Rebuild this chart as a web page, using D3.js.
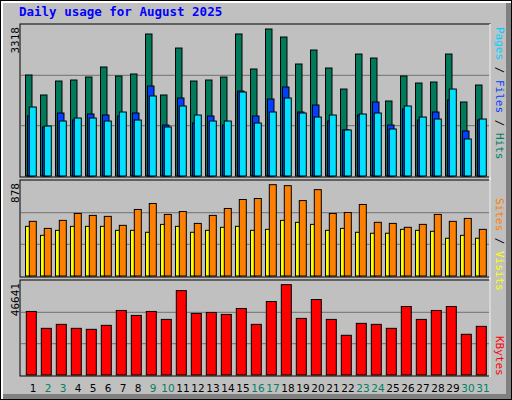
<!DOCTYPE html>
<html><head><meta charset="utf-8">
<script src="https://cdn.jsdelivr.net/npm/d3@7"></script>
<style>body{margin:0;background:#fff}</style>
</head><body>
<div id="chart"></div>
<script>
var days = d3.range(1, 32);
var weekend = [2,3,9,10,16,17,23,24,30,31];
var hits = [2219,1780,2087,2109,2175,2395,2197,2241,3120,1780,2812,2087,2109,2175,3120,2351,3230,3054,2461,2768,2373,1911,2680,2592,1648,2197,2043,2065,2680,1626,1999];
var files = [1318,1077,1384,1230,1362,1340,1318,1384,1977,1120,1714,1164,1318,1120,1867,1318,1692,1955,1406,1560,1208,1011,1340,1626,1120,1472,1230,1406,1670,989,1230];
var pages = [1516,1098,1208,1274,1274,1208,1406,1230,1758,1077,1538,1340,1208,1208,1845,1164,1406,1714,1384,1296,1340,1011,1362,1384,1033,1538,1296,1252,1911,813,1252];
var visits = [505,440,514,578,560,551,468,615,670,569,596,486,560,624,707,716,844,835,697,798,578,587,661,496,486,450,477,569,505,532,431];
var sites = [459,376,422,459,459,459,422,422,404,477,459,404,422,450,459,422,431,514,496,477,422,440,404,395,395,431,422,413,349,376,349];
var kbytes = [31530,23155,25125,23155,22662,24633,32020,29560,31530,27590,41877,30545,31037,30052,33009,25125,36457,44833,28082,37443,27590,19707,25618,25125,23155,33994,27590,32020,33994,20199,24141];
var maxHits = 3318, maxVisits = 878, maxKb = 46641;

var W = 512, H = 400, mono = "'DejaVu Sans Mono', monospace";
var svg = d3.select("#chart").append("svg").attr("width", W).attr("height", H);

svg.append("rect").attr("x", 0).attr("y", 0).attr("width", W).attr("height", H).attr("fill", "#fff");
svg.append("rect").attr("x", 3).attr("y", 3).attr("width", 503).attr("height", 391).attr("fill", "#c0c0c0");
svg.append("rect").attr("x", 506).attr("y", 3).attr("width", 5).attr("height", 396).attr("fill", "#808080");
svg.append("rect").attr("x", 3).attr("y", 394).attr("width", 508).attr("height", 5).attr("fill", "#808080");
svg.append("rect").attr("x", 0.5).attr("y", 0.5).attr("width", W - 1).attr("height", H - 1).attr("fill", "none").attr("stroke", "#000");

svg.append("text").attr("x", 19).attr("y", 16).attr("font-family", mono).attr("font-weight", "bold")
    .attr("font-size", 12.5).attr("fill", "#0000ff").text("Daily usage for August 2025");

var x = d3.scaleBand().domain(days).range([25, 490]).paddingInner(0);

var panels = [
    {top: 25, bottom: 176, max: maxHits, label: "3318"},
    {top: 181, bottom: 276, max: maxVisits, label: "878"},
    {top: 281, bottom: 375, max: maxKb, label: "46641"}
];

panels.forEach(function(p){
    p.y = d3.scaleLinear().domain([0, p.max]).range([p.bottom, p.top]);
    svg.append("rect").attr("x", 20).attr("y", p.top - 1).attr("width", 470).attr("height", p.bottom - p.top + 2)
        .attr("fill", "#c0c0c0").attr("stroke", "#000");
    [1/3, 2/3].forEach(function(f){
        svg.append("line").attr("x1", 21).attr("x2", 489)
            .attr("y1", p.y(p.max * f)).attr("y2", p.y(p.max * f))
            .attr("stroke", "#808080").attr("stroke-width", 1.3);
    });
    svg.append("text").attr("transform", "translate(19," + (p.top + 2) + ") rotate(-90)")
        .attr("text-anchor", "end").attr("font-family", mono).attr("font-size", 11).text(p.label);
});
svg.append("line").attr("x1", 490).attr("x2", 490).attr("y1", 24).attr("y2", 377).attr("stroke", "#fff").attr("stroke-width", 1.5);

function bars(data, p, dx, w, color){
    svg.append("g").selectAll("rect").data(data).join("rect")
        .attr("x", function(d, i){ return x(days[i]) + dx; })
        .attr("y", function(d){ return p.y(d); })
        .attr("width", w)
        .attr("height", function(d){ return p.bottom - p.y(d); })
        .attr("fill", color).attr("stroke", "#000").attr("stroke-width", 1);
}
bars(hits, panels[0], 0.5, 6.5, "#007a5a");
bars(files, panels[0], 2.5, 6.5, "#0040ff");
bars(pages, panels[0], 4.3, 7, "#00e0ff");
bars(sites, panels[1], 0.5, 4.5, "#ffff00");
bars(visits, panels[1], 4.3, 7, "#ff8000");
bars(kbytes, panels[2], 1.3, 10, "#ff0000");

svg.append("g").selectAll("text").data(days).join("text")
    .attr("x", function(d){ return x(d) + 8; }).attr("y", 392)
    .attr("text-anchor", "middle").attr("font-family", "'DejaVu Sans', sans-serif").attr("font-size", 10.5)
    .attr("fill", function(d){ return weekend.indexOf(d) >= 0 ? "#008060" : "#000"; })
    .text(function(d){ return d; });

function sideLabel(yStart, parts){
    var t = svg.append("text").attr("transform", "translate(496," + yStart + ") rotate(90)")
        .attr("font-family", mono).attr("font-size", 11);
    parts.forEach(function(p){ t.append("tspan").attr("fill", p[1]).text(p[0]); });
}
sideLabel(27, [["Pages", "#00d0ff"], [" / ", "#000"], ["Files", "#0040ff"], [" / ", "#000"], ["Hits", "#008060"]]);
sideLabel(198, [["Sites", "#ff8000"], [" / ", "#000"], ["Visits", "#ffff00"]]);
sideLabel(336, [["KBytes", "#ff0000"]]);
</script>
</body></html>
